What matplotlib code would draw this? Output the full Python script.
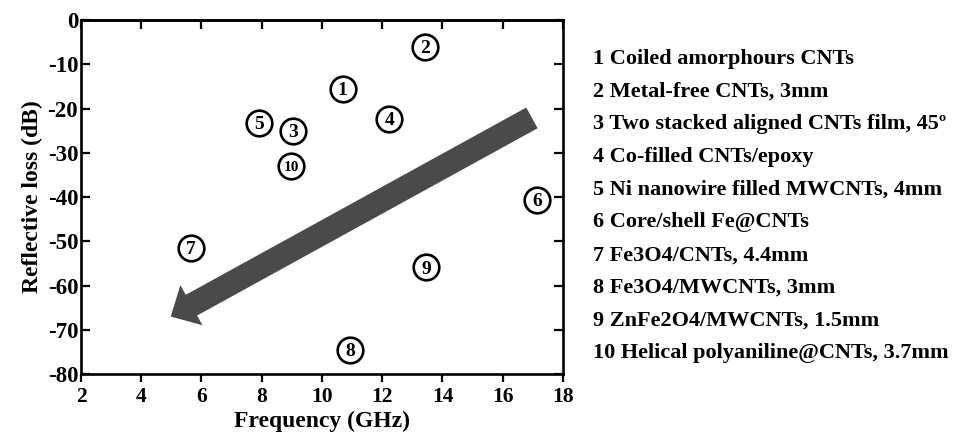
import matplotlib
matplotlib.use("Agg")
import matplotlib.pyplot as plt
from matplotlib.patches import FancyArrowPatch

# Reflection-loss data for CNT-based absorbers
labels = ["1", "2", "3", "4", "5", "6", "7", "8", "9", "10"]
freq_ghz = [10.69, 13.41, 9.05, 12.24, 7.91, 17.14, 5.64, 10.94, 13.45, 8.98]
rl_db = [-15.6, -6.0, -25.1, -22.4, -23.3, -40.6, -51.4, -74.6, -55.9, -33.0]

descriptions = [
    "1 Coiled amorphours CNTs",
    "2 Metal-free CNTs, 3mm",
    "3 Two stacked aligned CNTs film, 45\u00ba",
    "4 Co-filled CNTs/epoxy",
    "5 Ni nanowire filled MWCNTs, 4mm",
    "6 Core/shell Fe@CNTs",
    "7 Fe3O4/CNTs, 4.4mm",
    "8 Fe3O4/MWCNTs, 3mm",
    "9 ZnFe2O4/MWCNTs, 1.5mm",
    "10 Helical polyaniline@CNTs, 3.7mm",
]

x_ticks = [2, 4, 6, 8, 10, 12, 14, 16, 18]
y_ticks = [0, -10, -20, -30, -40, -50, -60, -70, -80]

# trend arrow (tail -> head), in data units
arrow_tail = (16.97, -22.1)
arrow_head = (4.98, -67.0)

plt.rcParams["font.family"] = ["Liberation Serif", "DejaVu Serif"]
plt.rcParams["font.weight"] = "bold"
plt.rcParams["axes.unicode_minus"] = False

fig = plt.figure(figsize=(9.64, 4.37), dpi=100)
ax = fig.add_axes([0.084, 0.144, 0.500, 0.810])

ax.set_xlim(2, 18)
ax.set_ylim(-80, 0)
ax.set_xticks(x_ticks)
ax.set_yticks(y_ticks)

for s in ax.spines.values():
    s.set_linewidth(1.9)

ax.tick_params(axis="x", direction="out", length=6, width=1.6,
               labelsize=15.5, pad=3, top=False)
ax.tick_params(axis="y", direction="in", length=6.5, width=1.6,
               labelsize=16.5, pad=2, left=True, right=True)
for lab in ax.get_xticklabels() + ax.get_yticklabels():
    lab.set_fontweight("bold")

top = ax.secondary_xaxis("top")
top.set_xticks(x_ticks)
top.tick_params(axis="x", direction="in", length=6.5, width=1.6,
                labeltop=False)
top.spines["top"].set_linewidth(1.9)

ax.set_xlabel("Frequency (GHz)", fontsize=17, fontweight="bold", labelpad=3)
ax.set_ylabel("Reflective loss (dB)", fontsize=17, fontweight="bold", labelpad=3)

arrow = FancyArrowPatch(
    arrow_tail, arrow_head,
    arrowstyle="simple,head_length=17,head_width=33,tail_width=17",
    mutation_scale=1, color="#4a4a4a", lw=0,
    shrinkA=0, shrinkB=0, zorder=2,
)
ax.add_patch(arrow)

ax.scatter(freq_ghz, rl_db, s=340, facecolor="white", edgecolor="black",
           linewidth=1.9, zorder=3)
for lab, x, y in zip(labels, freq_ghz, rl_db):
    fs = 11 if len(lab) > 1 else 14
    ax.text(x, y - 0.4, lab, ha="center", va="center", fontsize=fs,
            fontweight="bold", zorder=4)

# numbered description list beside the plot
y0 = 1 - 59 / 437
dy = 32.7 / 437
for i, d in enumerate(descriptions):
    fig.text(593 / 964, y0 - i * dy, d, ha="left", va="center",
             fontsize=16, fontweight="bold")

fig.savefig("out.png", dpi=100)
